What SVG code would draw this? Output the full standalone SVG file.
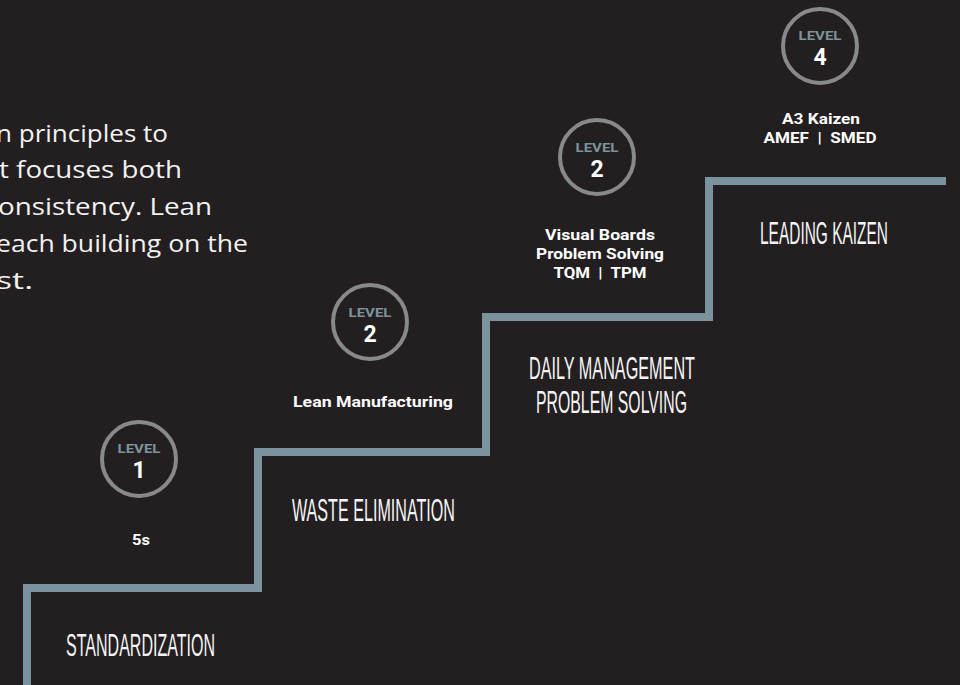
<svg xmlns="http://www.w3.org/2000/svg" width="960" height="685" viewBox="0 0 960 685">
<style>
.bg{fill:#231f20}
.stair{fill:none;stroke:#7b939d;stroke-width:8;stroke-linejoin:miter}
.ring{fill:none;stroke:#88898b;stroke-width:4}
.lvl{font-family:Roboto,"Liberation Sans",sans-serif;font-weight:700;font-size:13.5px;fill:#7b939d;text-anchor:middle}
.num{font-family:Roboto,"Liberation Sans",sans-serif;font-weight:700;font-size:23px;fill:#ffffff;text-anchor:middle}
.sub{font-family:Roboto,"Liberation Sans",sans-serif;font-weight:700;font-size:14.5px;fill:#ffffff;text-anchor:middle}
.head{font-family:"Liberation Sans",Arial,sans-serif;font-size:30.5px;fill:#f4f4f4}
.para{font-family:"Open Sans","Noto Sans",sans-serif;font-size:23.5px;fill:#f2f2f2}
</style>
<rect class="bg" x="0" y="0" width="960" height="685"/>
<g id="intro">
<text class="para" x="-4" y="142" textLength="172" lengthAdjust="spacingAndGlyphs">n principles to</text>
<text class="para" x="-1" y="178" textLength="183" lengthAdjust="spacingAndGlyphs">t focuses both</text>
<text class="para" x="-2" y="215" textLength="214" lengthAdjust="spacingAndGlyphs">onsistency. Lean</text>
<text class="para" x="-4" y="252" textLength="252" lengthAdjust="spacingAndGlyphs">each building on the</text>
<text class="para" x="-4" y="289" textLength="37" lengthAdjust="spacingAndGlyphs">st.</text>
</g>
<g id="connectors">
<path class="stair" d="M27,685 V588 H258 V452 H486 V317 H709 V181 H946"/>
</g>
<g id="step-standardization">
<text class="head" x="66" y="656" textLength="149" lengthAdjust="spacingAndGlyphs">STANDARDIZATION</text>
</g>
<g id="step-waste">
<text class="head" x="292" y="521" textLength="163" lengthAdjust="spacingAndGlyphs">WASTE ELIMINATION</text>
</g>
<g id="step-daily">
<text class="head" x="529" y="379" textLength="166" lengthAdjust="spacingAndGlyphs">DAILY MANAGEMENT</text>
<text class="head" x="536" y="413" textLength="151" lengthAdjust="spacingAndGlyphs">PROBLEM SOLVING</text>
</g>
<g id="step-kaizen">
<text class="head" x="760" y="244" textLength="128" lengthAdjust="spacingAndGlyphs">LEADING KAIZEN</text>
</g>
<g id="level-1">
<circle class="ring" cx="139" cy="459" r="37"/>
<text class="lvl" x="139" y="453" textLength="43" lengthAdjust="spacingAndGlyphs">LEVEL</text>
<text class="num" x="139" y="478">1</text>
<text class="sub" x="141" y="545" textLength="18" lengthAdjust="spacingAndGlyphs">5s</text>
</g>
<g id="level-2a">
<circle class="ring" cx="370" cy="322" r="37"/>
<text class="lvl" x="370" y="317" textLength="43" lengthAdjust="spacingAndGlyphs">LEVEL</text>
<text class="num" x="370" y="342">2</text>
<text class="sub" x="373" y="407" textLength="160" lengthAdjust="spacingAndGlyphs">Lean Manufacturing</text>
</g>
<g id="level-2b">
<circle class="ring" cx="597" cy="157" r="37"/>
<text class="lvl" x="597" y="152" textLength="43" lengthAdjust="spacingAndGlyphs">LEVEL</text>
<text class="num" x="597" y="177">2</text>
<text class="sub" x="600" y="240" textLength="110" lengthAdjust="spacingAndGlyphs">Visual Boards</text>
<text class="sub" x="600" y="259" textLength="128" lengthAdjust="spacingAndGlyphs">Problem Solving</text>
<text class="sub" x="600" y="278" xml:space="preserve" textLength="93" lengthAdjust="spacingAndGlyphs">TQM  |  TPM</text>
</g>
<g id="level-4">
<circle class="ring" cx="820" cy="46" r="37"/>
<text class="lvl" x="820" y="40" textLength="43" lengthAdjust="spacingAndGlyphs">LEVEL</text>
<text class="num" x="820" y="65">4</text>
<text class="sub" x="821" y="124" textLength="78" lengthAdjust="spacingAndGlyphs">A3 Kaizen</text>
<text class="sub" x="820" y="143" xml:space="preserve" textLength="113" lengthAdjust="spacingAndGlyphs">AMEF  |  SMED</text>
</g>
</svg>
